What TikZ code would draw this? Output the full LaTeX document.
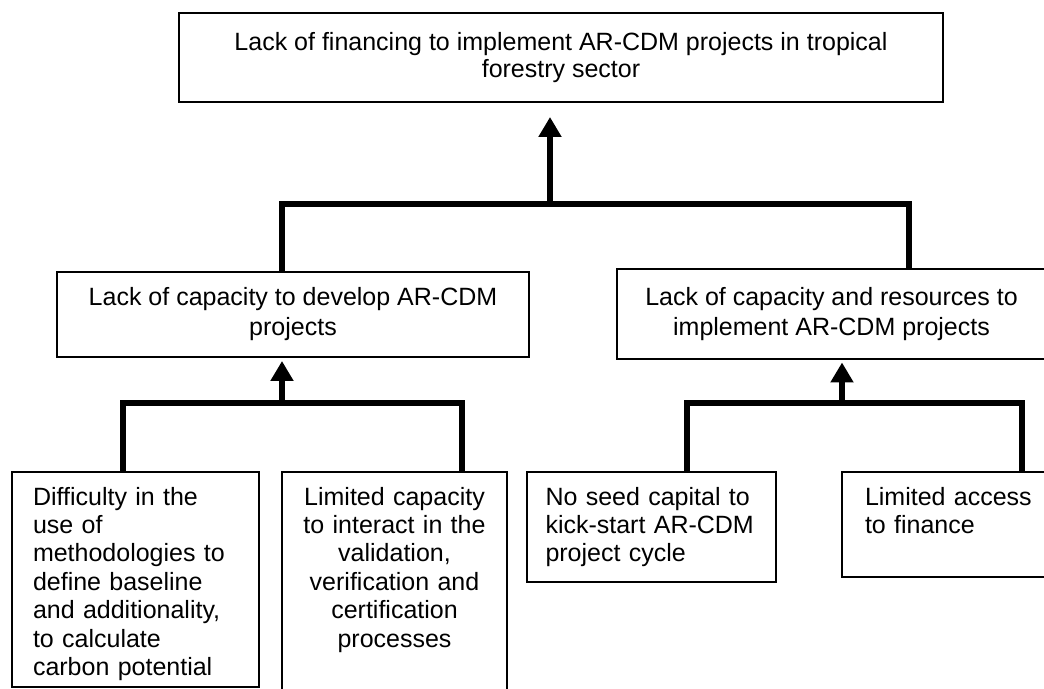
\documentclass[tikz,border=0pt]{standalone}
\usepackage{fontspec}
\setmainfont{Liberation Sans}
\usetikzlibrary{arrows.meta,positioning}

\begin{document}
\begin{tikzpicture}[x=0.5pt,y=-0.5pt,every node/.style={outer sep=0pt},
		box/.style={draw,line width=1pt,inner sep=0pt},
		headbox/.style={box,font=\fontsize{12.5}{13.3}\selectfont,align=center},
		midbox/.style={box,font=\fontsize{12.5}{15}\selectfont,align=center},
		cause/.style={box,font=\fontsize{12.5}{14.2}\selectfont,anchor=north west,
			inner xsep=10.5pt,inner ysep=7.5pt,text height=9pt,align=left},
		link/.style={line width=3pt},
		up/.style={line width=3pt,-{Triangle[length=10pt,width=11pt]}}]
		
		\useasboundingbox (0,0) rectangle (1044,689);
		\clip (0,0) rectangle (1044,689);
		
		\node[headbox,minimum width=382pt,minimum height=44.5pt] (p0) at (561,57.5)
		{Lack of financing to implement AR-CDM projects in tropical\\forestry sector};
		
		\node[midbox,minimum width=236pt,minimum height=42.5pt] (p1) at (293,314.5)
		{Lack of capacity to develop AR-CDM\\projects};
		\node[midbox,minimum width=214.5pt,minimum height=45pt,right=44pt of p1] (p2)
		{Lack of capacity and resources to\\implement AR-CDM projects};
		
		\node[cause,text width=102.5pt,text depth=83.5pt] (c1) at (12,472)
		{Difficulty in the\\use of\\methodologies to\\define baseline\\and additionality,\\to calculate\\carbon potential};
		\node[cause,text width=91.5pt,text depth=90pt,align=center] (c2) at (282,472)
		{Limited capacity\\to interact in the\\validation,\\verification and\\certification\\processes};
		\node[cause,inner xsep=9.25pt,text width=106pt,text depth=31pt] (c3) at (527,472)
		{No seed capital to\\kick-start AR-CDM\\project cycle};
		\node[cause,inner xsep=11.5pt,text width=90pt,text depth=28.5pt] (c4) at (842,472)
		{Limited access\\to finance};
		
		% junctions of the tree
		\coordinate (j0) at (550,204);
		\coordinate (a1) at (282,204);
		\coordinate (a2) at (909,204);
		\coordinate (j1) at (282,403);
		\coordinate (b1) at (123,403);
		\coordinate (b2) at (462,403);
		\coordinate (j2) at (842,403);
		\coordinate (b3) at (687,403);
		\coordinate (b4) at (1022,403);
		
		\draw[link] (p1.north -| a1) |- (a2) -- (p2.north -| a2);
		\draw[up,shorten >=7.5pt] (j0) -- (p0.south -| j0);
		
		\draw[link] (c1.north -| b1) |- (b2) -- (c2.north -| b2);
		\draw[up,shorten >=2pt] (j1) -- (p1.south -| j1);
		
		\draw[link] (c3.north -| b3) |- (b4) -- (c4.north -| b4);
		\draw[up,shorten >=1.5pt] (j2) -- (p2.south -| j2);
		
	\end{tikzpicture}
\end{document}
